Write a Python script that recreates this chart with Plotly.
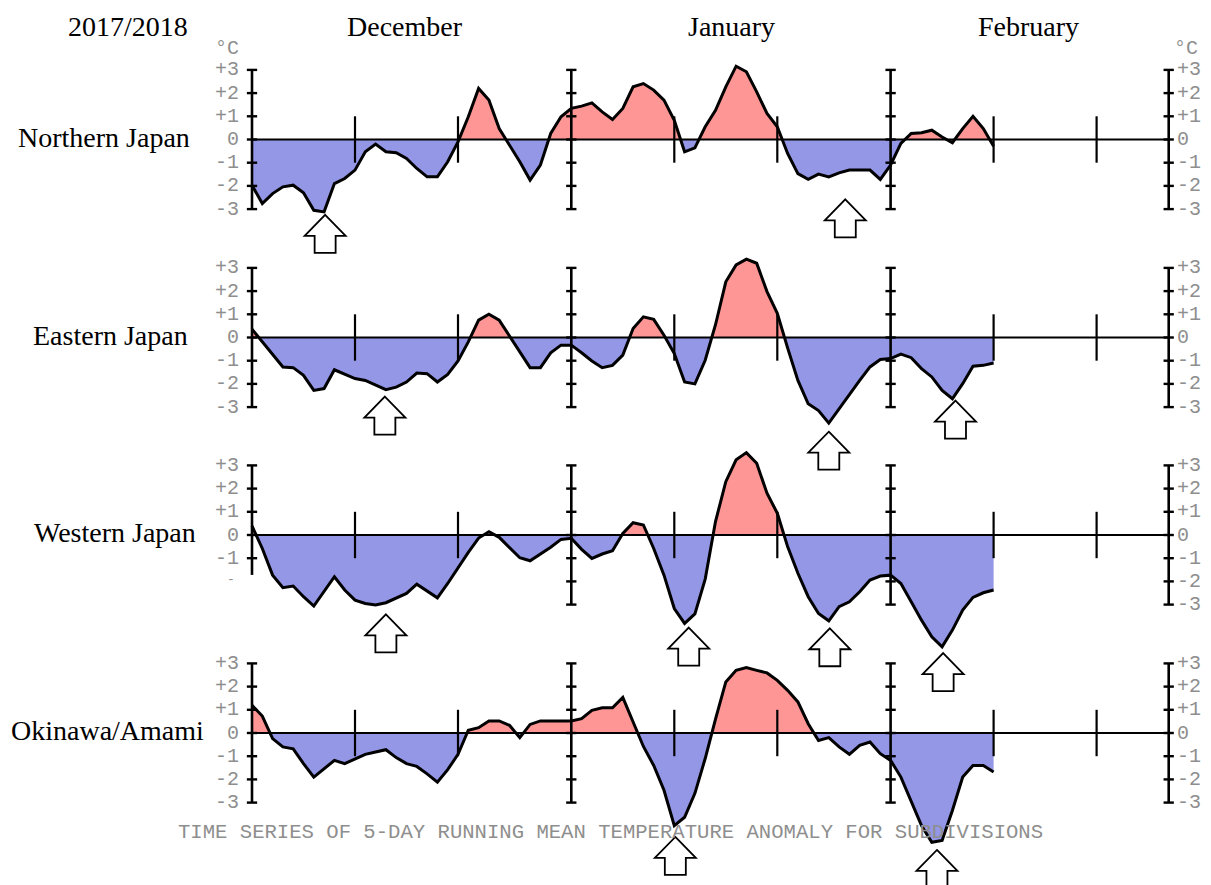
import plotly.graph_objects as go

# ---------------- data (5-day running mean temperature anomaly, degC) ----------------
# day index 0 = Dec 1 2017 ... 72 = Feb 11 2018
days = list(range(73))
northern = [-1.97, -2.76, -2.33, -2.04, -1.97, -2.30, -3.05, -3.12, -1.90, -1.68,
            -1.32, -0.53, -0.20, -0.53, -0.57, -0.82, -1.25, -1.61, -1.61, -0.96,
            -0.10, 0.98, 2.20, 1.70, 0.47, -0.24, -0.96, -1.75, -1.10, 0.26,
            0.98, 1.34, 1.44, 1.58, 1.19, 0.86, 1.34, 2.27, 2.41, 2.13,
            1.70, 0.83, -0.53, -0.36, 0.55, 1.26, 2.27, 3.16, 2.92, 2.05,
            1.12, 0.55, -0.60, -1.47, -1.72, -1.49, -1.61, -1.44, -1.32, -1.32,
            -1.32, -1.72, -1.10, -0.17, 0.26, 0.29, 0.40, 0.11, -0.14, 0.47,
            1.00, 0.47, -0.29]
eastern = [0.36, -0.19, -0.72, -1.27, -1.30, -1.63, -2.28, -2.20, -1.39, -1.59,
           -1.77, -1.85, -2.06, -2.25, -2.14, -1.92, -1.53, -1.56, -1.92, -1.59,
           -1.01, -0.19, 0.75, 1.00, 0.75, 0.06, -0.62, -1.30, -1.30, -0.66,
           -0.33, -0.33, -0.66, -1.01, -1.30, -1.20, -0.76, 0.39, 0.89, 0.78,
           0.10, -0.69, -1.92, -2.00, -0.98, 0.55, 2.40, 3.13, 3.38, 3.20,
           1.98, 1.04, -0.45, -1.85, -2.86, -3.15, -3.69, -3.07, -2.42, -1.85,
           -1.27, -0.95, -0.91, -0.72, -0.87, -1.34, -1.70, -2.28, -2.64, -1.99,
           -1.24, -1.20, -1.10]
western = [0.39, -0.58, -1.73, -2.27, -2.20, -2.66, -3.06, -2.45, -1.80, -2.37,
           -2.81, -2.95, -3.02, -2.92, -2.73, -2.52, -2.12, -2.40, -2.71, -2.09,
           -1.40, -0.75, -0.13, 0.14, -0.10, -0.55, -0.98, -1.11, -0.82, -0.53,
           -0.19, -0.14, -0.62, -1.01, -0.82, -0.68, 0.07, 0.53, 0.43, -0.58,
           -1.73, -3.17, -3.81, -3.40, -1.90, 0.58, 2.30, 3.24, 3.55, 3.09,
           1.80, 0.94, -0.50, -1.65, -2.66, -3.38, -3.70, -3.09, -2.88, -2.45,
           -1.94, -1.77, -1.73, -2.09, -2.88, -3.67, -4.39, -4.82, -4.10, -3.24,
           -2.69, -2.49, -2.37]
okinawa = [1.19, 0.73, -0.24, -0.60, -0.68, -1.32, -1.90, -1.54, -1.18, -1.32,
           -1.11, -0.92, -0.82, -0.72, -1.06, -1.32, -1.44, -1.76, -2.12, -1.58,
           -0.92, 0.12, 0.23, 0.52, 0.52, 0.33, -0.20, 0.37, 0.52, 0.52,
           0.52, 0.52, 0.62, 0.98, 1.09, 1.09, 1.53, 0.47, -0.58, -1.40,
           -2.47, -3.99, -3.63, -2.60, -1.10, 0.60, 2.20, 2.70, 2.82, 2.70,
           2.59, 2.27, 1.84, 1.34, 0.40, -0.32, -0.20, -0.60, -0.92, -0.53,
           -0.39, -0.89, -1.18, -1.90, -2.98, -3.99, -4.71, -4.63, -3.34, -1.90,
           -1.40, -1.40, -1.68]

series = [northern, eastern, western, okinawa]
panel_names = ["Northern Japan", "Eastern Japan", "Western Japan", "Okinawa/Amami"]
tick_vals = [3, 2, 1, 0, -1, -2, -3]
tick_text = ["+3", "+2", "+1", "0", "-1", "-2", "-3"]
season_label = "2017/2018"
month_labels = ["December", "January", "February"]
title_text = "TIME SERIES OF 5-DAY RUNNING MEAN TEMPERATURE ANOMALY FOR SUBDIVISIONS"
major_days = [0, 31, 62, 89]          # Dec 1, Jan 1, Feb 1, Feb 28
minor_days = [10, 20, 41, 51, 72, 82]  # Dec 11/21, Jan 11/21, Feb 11/21
# cold-spell arrows: (panel, day, tip value)
arrows = [(0, 7.1, -3.25), (0, 57.6, -2.58),
          (1, 12.9, -2.55), (1, 56.0, -4.06), (1, 68.3, -2.72),
          (2, 13.0, -3.42), (2, 42.4, -3.99), (2, 56.1, -4.02), (2, 67.1, -5.09),
          (3, 41.1, -4.48), (3, 66.5, -5.04)]

# ---------------- layout geometry ----------------
W, H = 1211, 885
X0_PX, PX_PER_DAY = 252, 10.3
PX_PER_UNIT = 23.2
panel_zero_px = [139.5, 337.5, 535, 733]

RED = "#FF9696"
BLUE = "#9497E6"
GRAY = "#8E8E8E"
MONO = "Liberation Mono, DejaVu Sans Mono, monospace"
SERIF = "Liberation Serif, Times New Roman, serif"


def split_fill(xs, ys):
    px, py = [xs[0]], [ys[0]]
    for i in range(1, len(xs)):
        a, b = ys[i - 1], ys[i]
        if a * b < 0:
            t = a / (a - b)
            px.append(xs[i - 1] + t * (xs[i] - xs[i - 1]))
            py.append(0.0)
        px.append(xs[i])
        py.append(b)
    return px, [max(v, 0) for v in py], [min(v, 0) for v in py]


fig = go.Figure()
shapes = []
annotations = []

for p, ys in enumerate(series):
    yname = "y" if p == 0 else f"y{p + 1}"
    fx, pos, neg = split_fill(days, ys)
    fig.add_trace(go.Scatter(x=fx, y=pos, mode="lines", line=dict(width=0),
                             fill="tozeroy", fillcolor=RED, yaxis=yname,
                             hoverinfo="skip", showlegend=False))
    fig.add_trace(go.Scatter(x=fx, y=neg, mode="lines", line=dict(width=0),
                             fill="tozeroy", fillcolor=BLUE, yaxis=yname,
                             hoverinfo="skip", showlegend=False))
    fig.add_trace(go.Scatter(x=days, y=ys, mode="lines",
                             line=dict(color="black", width=3),
                             yaxis=yname, name=panel_names[p], showlegend=False))

    # zero line
    shapes.append(dict(type="line", xref="x", yref=yname, x0=major_days[0], x1=major_days[-1],
                       y0=0, y1=0, line=dict(color="black", width=2.2), layer="above"))
    # major vertical axes with integer ticks
    for d in major_days:
        lo = -3
        if p == 2 and d == 0:
            lo = -1.72   # truncated left axis in the western panel
        shapes.append(dict(type="line", xref="x", yref=yname, x0=d, x1=d, y0=lo, y1=3,
                           line=dict(color="black", width=2.6), layer="above"))
        for v in tick_vals:
            if v < lo:
                continue
            shapes.append(dict(type="line", xref="x", yref=yname, x0=d - 0.5, x1=d + 0.5,
                               y0=v, y1=v, line=dict(color="black", width=2.4), layer="above"))
    # minor day ticks
    for d in minor_days:
        shapes.append(dict(type="line", xref="x", yref=yname, x0=d, x1=d, y0=-1, y1=1,
                           line=dict(color="black", width=2.2), layer="above"))
    # tick labels
    for v, t in zip(tick_vals, tick_text):
        if not (p == 2 and v < -1):
            annotations.append(dict(x=major_days[0], y=v, xref="x", yref=yname, text=t,
                                    showarrow=False, xanchor="right", yanchor="middle",
                                    xshift=-11, font=dict(family=MONO, size=20, color=GRAY)))
        annotations.append(dict(x=major_days[-1], y=v, xref="x", yref=yname, text=t,
                                showarrow=False, xanchor="left", yanchor="middle",
                                xshift=6, font=dict(family=MONO, size=20, color=GRAY)))
    if p == 2:
        annotations.append(dict(x=major_days[0], y=-1.9, xref="x", yref=yname, text="-",
                                showarrow=False, xanchor="right", yanchor="middle",
                                xshift=-15, font=dict(family=MONO, size=13, color=GRAY)))
    # panel name
    annotations.append(dict(x=[-5.83, -6.02, -5.24, -4.47][p], y=0.1, xref="x", yref=yname,
                            text=panel_names[p], showarrow=False, xanchor="right",
                            yanchor="middle", font=dict(family=SERIF, size=28, color="black")))

# degree labels
for d, anchor, shift in [(major_days[0], "right", -11), (major_days[-1], "left", 3)]:
    annotations.append(dict(x=d, y=3.94, xref="x", yref="y", text="°C", showarrow=False,
                            xanchor=anchor, yanchor="middle", xshift=shift,
                            font=dict(family=MONO, size=20, color=GRAY)))

# header texts
annotations.append(dict(x=-12.0, y=4.85, xref="x", yref="y", text=season_label, showarrow=False,
                        xanchor="center", yanchor="middle",
                        font=dict(family=SERIF, size=28, color="black")))
for lab, d in zip(month_labels, [14.85, 46.6, 75.4]):
    annotations.append(dict(x=d, y=4.85, xref="x", yref="y", text=lab, showarrow=False,
                            xanchor="center", yanchor="middle",
                            font=dict(family=SERIF, size=28, color="black")))

# bottom caption
annotations.append(dict(x=34.85, y=-4.31, xref="x", yref="y4", text=title_text, showarrow=False,
                        xanchor="center", yanchor="middle",
                        font=dict(family=MONO, size=20.6, color=GRAY)))

# arrows (pixel-sized, anchored at data positions)
arrow_path = "M0,0 L20.5,-21 L10.5,-21 L10.5,-38 L-10.5,-38 L-10.5,-21 L-20.5,-21 Z"
for p, d, v in arrows:
    yname = "y" if p == 0 else f"y{p + 1}"
    shapes.append(dict(type="path", xref="x", yref=yname, xsizemode="pixel", ysizemode="pixel",
                       xanchor=d, yanchor=v, path=arrow_path, fillcolor="white",
                       line=dict(color="black", width=1.8), layer="above"))

layout_axes = {}
for p, z in enumerate(panel_zero_px):
    key = "yaxis" if p == 0 else f"yaxis{p + 1}"
    ax = dict(domain=[0, 1], range=[-(H - z) / PX_PER_UNIT, z / PX_PER_UNIT], visible=False,
              fixedrange=True)
    if p > 0:
        ax["overlaying"] = "y"
    layout_axes[key] = ax

fig.update_layout(
    width=W, height=H,
    margin=dict(l=0, r=0, t=0, b=0, pad=0),
    paper_bgcolor="white", plot_bgcolor="white",
    xaxis=dict(range=[-X0_PX / PX_PER_DAY, (W - X0_PX) / PX_PER_DAY], visible=False,
               fixedrange=True),
    shapes=shapes, annotations=annotations, showlegend=False,
    **layout_axes,
)

fig.write_html("out.html", config={"displayModeBar": False},
               post_script="document.body.style.margin='0';")
